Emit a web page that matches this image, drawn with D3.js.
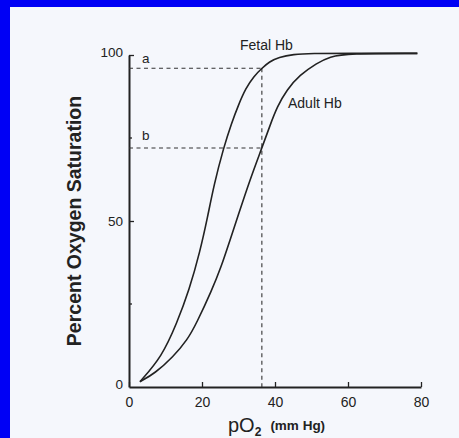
<!DOCTYPE html>
<html><head><meta charset="utf-8">
<script src="https://cdn.jsdelivr.net/npm/d3@7"></script>
<style>
html,body{margin:0;padding:0;background:#f5f7fc;}
svg{display:block;}
text{font-family:"Liberation Sans",Arial,sans-serif;fill:#222;}
</style></head>
<body><svg id="c" width="459" height="438"></svg>
<script>
// ---- data ----
const fetalPO2 = [3, 9, 13.1, 16.5, 19.5, 21.5, 23.3, 25.9, 28.1, 30, 32, 34.2, 36.4, 38.5, 41, 45, 50, 60, 79];
const fetalSat = [1.6, 9.1, 19.2, 29.2, 41, 51, 61, 72, 79.5, 85, 90, 93.6, 96, 98, 99.3, 100.2, 100.5, 100.5, 100.5];
const adultPO2 = [3, 7.1, 12.1, 16, 18.5, 22.7, 25.2, 27.6, 30, 33, 36.4, 38.7, 40.6, 43.2, 46.8, 51.4, 55, 60, 79];
const adultSat = [1.6, 4.1, 9.1, 14.2, 19.2, 29.2, 36, 44, 52, 62, 72, 79, 84.4, 89.5, 94, 97.5, 99.5, 100.5, 100.5];
const xTicks = [0, 20, 40, 60, 80];
const yTicks = [0, 50, 100];
const yMinorTicks = [25, 75];
const refPO2 = 36.4;
const refA = 96;   // "a" saturation
const refB = 72;   // "b" saturation

// ---- layout ----
const svg = d3.select("#c");
svg.append("rect").attr("x",0).attr("y",0).attr("width",459).attr("height",7).attr("fill","#0000f5");
svg.append("rect").attr("x",0).attr("y",0).attr("width",10).attr("height",438).attr("fill","#0000f5");

const x = d3.scaleLinear().domain([0, 80]).range([129, 421]);
const y = d3.scaleLinear().domain([0, 100]).range([387, 55]);

const g = svg.append("g");

// axes
const xAxis = d3.axisBottom(x).tickValues(xTicks).tickSizeInner(-5).tickSizeOuter(0).tickPadding(8).tickFormat(d3.format("d"));
const gx = g.append("g").attr("transform", `translate(0,${y(0)})`).call(xAxis);
gx.select(".domain").attr("stroke","#222").attr("stroke-width",2);
gx.selectAll(".tick line").attr("stroke","#222").attr("stroke-width",1.3);
gx.selectAll(".tick text").attr("font-size",14).attr("fill","#222").attr("dy","0.85em");

const yAxis = d3.axisLeft(y).tickValues(yTicks).tickSizeInner(-5).tickSizeOuter(0).tickPadding(6).tickFormat(d3.format("d"));
const gy = g.append("g").attr("transform", `translate(${x(0)},0)`).call(yAxis);
gy.select(".domain").attr("stroke","#222").attr("stroke-width",2);
gy.selectAll(".tick line").attr("stroke","#222").attr("stroke-width",1.3);
gy.selectAll(".tick text").attr("font-size",13.5).attr("fill","#222");
gy.selectAll(".tick").filter(d => d === 0).select("line").remove();
gy.selectAll(".tick").filter(d => d === 0).select("text").attr("dy","0.1em");
gy.selectAll(".tick").filter(d => d === 100).select("text").attr("dy","0.1em");

g.selectAll(".minor").data(yMinorTicks).enter().append("line")
  .attr("x1", x(0)).attr("x2", x(0) + 3)
  .attr("y1", d => y(d)).attr("y2", d => y(d))
  .attr("stroke","#222").attr("stroke-width",1.3);

// reference dashed lines
const dash = "4,3.5";
g.append("line").attr("x1", x(0)).attr("x2", x(refPO2)).attr("y1", y(refA)).attr("y2", y(refA))
  .attr("stroke","#333").attr("stroke-width",1.1).attr("stroke-dasharray",dash);
g.append("line").attr("x1", x(0)).attr("x2", x(refPO2)).attr("y1", y(refB)).attr("y2", y(refB))
  .attr("stroke","#333").attr("stroke-width",1.1).attr("stroke-dasharray",dash);
g.append("line").attr("x1", x(refPO2)).attr("x2", x(refPO2)).attr("y1", y(refA)).attr("y2", y(0))
  .attr("stroke","#333").attr("stroke-width",1.1).attr("stroke-dasharray",dash);

// curves
const line = d3.line().x(d => x(d[0])).y(d => y(d[1])).curve(d3.curveBasis);
g.append("path").datum(d3.zip(fetalPO2, fetalSat)).attr("d", line)
  .attr("fill","none").attr("stroke","#222").attr("stroke-width",1.6);
g.append("path").datum(d3.zip(adultPO2, adultSat)).attr("d", line)
  .attr("fill","none").attr("stroke","#222").attr("stroke-width",1.6);

// labels
g.append("text").attr("x", 142).attr("y", y(refA) - 5).attr("font-size",13.5).text("a");
g.append("text").attr("x", 142).attr("y", y(refB) - 8).attr("font-size",13.5).text("b");
g.append("text").attr("x", 240).attr("y", 50).attr("font-size",14).text("Fetal Hb");
g.append("text").attr("x", 288).attr("y", 108).attr("font-size",14).text("Adult Hb");

g.append("text").attr("transform","translate(81,221) rotate(-90)").attr("text-anchor","middle")
  .attr("font-size",19.5).attr("font-weight","bold").attr("fill","#333").text("Percent Oxygen Saturation");

const xl = g.append("text").attr("x", 228).attr("y", 432).attr("fill","#222");
xl.append("tspan").attr("font-size",20).text("pO");
xl.append("tspan").attr("font-size",12).attr("font-weight","bold").attr("dy",4).text("2");
xl.append("tspan").attr("font-size",13.5).attr("font-weight","bold").attr("dy",-6).attr("dx",9).text("(mm Hg)");
</script></body></html>
